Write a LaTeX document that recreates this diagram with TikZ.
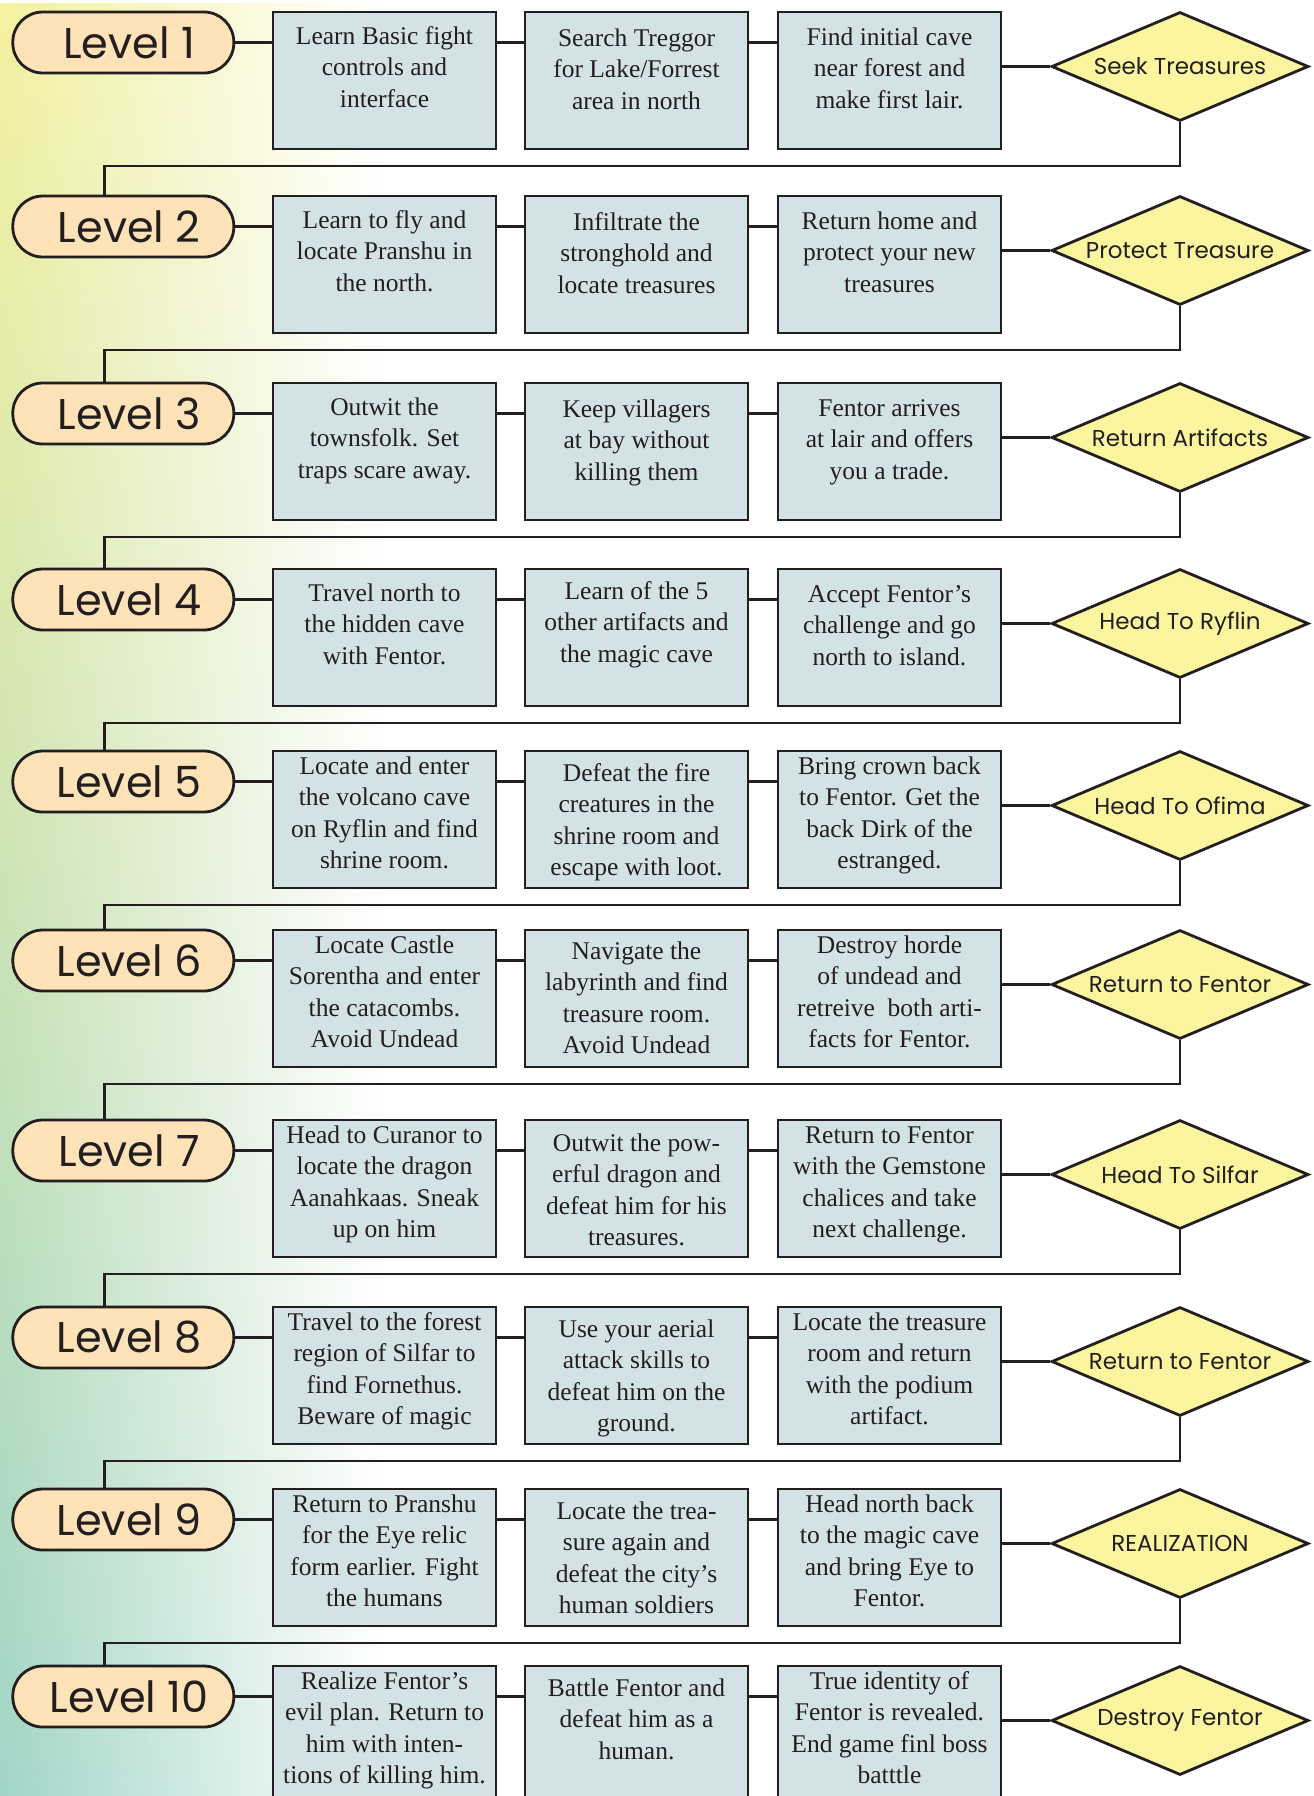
\documentclass[tikz,border=0pt]{standalone}
\usepackage{fontspec}
\newfontfamily\boxfont{Liberation Serif}
\newfontfamily\gothfont{Poppins}
\usetikzlibrary{calc,shapes.geometric,fadings}
\definecolor{inkline}{RGB}{35,31,32}
\definecolor{pillfill}{RGB}{253,227,183}
\definecolor{boxfill}{RGB}{211,226,229}
\definecolor{diafill}{RGB}{251,245,160}
\definecolor{bgtop}{RGB}{245,241,160}
\definecolor{bgmid}{RGB}{198,225,180}
\definecolor{bgbot}{RGB}{160,213,200}
\newcommand\steptext[2][10]{\parbox[c][137pt][t]{223pt}{\centering\vspace*{#1pt}\strut#2}}
\newcommand\questtext[1]{\makebox[0pt]{#1}}
\tikzset{
	levelpill/.style={draw=inkline, line width=2.8pt, fill=pillfill, rounded corners=30pt, minimum width=221pt, minimum height=61pt, inner sep=0pt, text=inkline, font=\gothfont\fontsize{43}{50}\selectfont, execute at begin node={\hspace*{12pt}}},
	stepbox/.style={draw=inkline, line width=2.8pt, fill=boxfill, minimum width=223pt, minimum height=137pt, inner sep=0pt, text=inkline, font=\boxfont\fontsize{25.5}{31.5}\selectfont},
	questdia/.style={draw=inkline, line width=2.8pt, fill=diafill, shape=diamond, minimum width=257pt, minimum height=109pt, inner sep=0pt, text=inkline, font=\gothfont\fontsize{23}{28}\selectfont},
	link/.style={draw=inkline, line width=2.8pt},
}

\begin{document}
\begin{tikzpicture}[x=1pt,y=-1pt]
			%%%%% START %%%%%
			\useasboundingbox (0,0) rectangle (1314,1796);
			\clip (0,0) rectangle (1314,1796);
			\fill[white] (0,0) rectangle (1314,1796);
			\shade[top color=bgtop, middle color=bgmid, bottom color=bgbot, path fading=east] (0,0) rectangle (380,1796);
			
			% level 1
			\node[levelpill] (lv1) at (123.3,42.5) {Level 1};
			\node[stepbox] (b11) at (384.5,80.5) {\steptext{Learn Basic fight\\controls and\\interface}};
			\node[stepbox] (b12) at (636.5,80.5) {\steptext[12]{Search Treggor\\for Lake/Forrest\\area in north}};
			\node[stepbox] (b13) at (889.5,80.5) {\steptext[11]{Find initial cave\\near forest and\\make first lair.}};
			\node[questdia] (q1) at (1180,66.5) {\questtext{Seek Treasures}};
			
			% level 2
			\node[levelpill] (lv2) at (123.3,226.5) {Level 2};
			\node[stepbox] (b21) at (384.5,264.5) {\steptext{Learn to fly and\\locate Pranshu in\\the north.}};
			\node[stepbox] (b22) at (636.5,264.5) {\steptext[12]{Infiltrate the\\stronghold and\\locate treasures}};
			\node[stepbox] (b23) at (889.5,264.5) {\steptext[11]{Return home and\\protect your new\\treasures}};
			\node[questdia] (q2) at (1180,250.5) {\questtext{Protect Treasure}};
			
			% level 3
			\node[levelpill] (lv3) at (123.3,413.5) {Level 3};
			\node[stepbox] (b31) at (384.5,451.5) {\steptext{Outwit the\\townsfolk. Set\\traps scare away.}};
			\node[stepbox] (b32) at (636.5,451.5) {\steptext[12]{Keep villagers\\at bay without\\killing them}};
			\node[stepbox] (b33) at (889.5,451.5) {\steptext[11]{Fentor arrives\\at lair and offers\\you a trade.}};
			\node[questdia] (q3) at (1180,437.5) {\questtext{Return Artifacts}};
			
			% level 4
			\node[levelpill] (lv4) at (123.3,599.5) {Level 4};
			\node[stepbox] (b41) at (384.5,637.5) {\steptext{Travel north to\\the hidden cave\\with Fentor.}};
			\node[stepbox] (b42) at (636.5,637.5) {\steptext[8]{Learn of the 5\\other artifacts and\\the magic cave}};
			\node[stepbox] (b43) at (889.5,637.5) {\steptext[11]{Accept Fentor’s\\challenge and go\\north to island.}};
			\node[questdia] (q4) at (1180,623.5) {\questtext{Head To Ryflin}};
			
			% level 5
			\node[levelpill] (lv5) at (123.3,781.5) {Level 5};
			\node[stepbox] (b51) at (384.5,819.5) {\steptext[1]{Locate and enter\\the volcano cave\\on Ryflin and find\\shrine room.}};
			\node[stepbox] (b52) at (636.5,819.5) {\steptext[8]{Defeat the fire\\creatures in the\\shrine room and\\escape with loot.}};
			\node[stepbox] (b53) at (889.5,819.5) {\steptext[1]{Bring crown back\\to Fentor. Get the\\back Dirk of the\\estranged.}};
			\node[questdia] (q5) at (1180,805.5) {\questtext{Head To Ofima}};
			
			% level 6
			\node[levelpill] (lv6) at (123.3,960.5) {Level 6};
			\node[stepbox] (b61) at (384.5,998.5) {\steptext[1]{Locate Castle\\Sorentha and enter\\the catacombs.\\Avoid Undead}};
			\node[stepbox] (b62) at (636.5,998.5) {\steptext[7]{Navigate the\\labyrinth and find\\treasure room.\\Avoid Undead}};
			\node[stepbox] (b63) at (889.5,998.5) {\steptext[1]{Destroy horde\\of undead and\\retreive~ both arti-\\facts for Fentor.}};
			\node[questdia] (q6) at (1180,984.5) {\questtext{Return to Fentor}};
			
			% level 7
			\node[levelpill] (lv7) at (123.3,1150.5) {Level 7};
			\node[stepbox] (b71) at (384.5,1188.5) {\steptext[1]{Head to Curanor to\\locate the dragon\\Aanahkaas. Sneak\\up on him}};
			\node[stepbox] (b72) at (636.5,1188.5) {\steptext[9]{Outwit the pow-\\erful dragon and\\defeat him for his\\treasures.}};
			\node[stepbox] (b73) at (889.5,1188.5) {\steptext[1]{Return to Fentor\\with the Gemstone\\chalices and take\\next challenge.}};
			\node[questdia] (q7) at (1180,1174.5) {\questtext{Head To Silfar}};
			
			% level 8
			\node[levelpill] (lv8) at (123.3,1337.5) {Level 8};
			\node[stepbox] (b81) at (384.5,1375.5) {\steptext[1]{Travel to the forest\\region of Silfar to\\find Fornethus.\\Beware of magic}};
			\node[stepbox] (b82) at (636.5,1375.5) {\steptext[8]{Use your aerial\\attack skills to\\defeat him on the\\ground.}};
			\node[stepbox] (b83) at (889.5,1375.5) {\steptext[1]{Locate the treasure\\room and return\\with the podium\\artifact.}};
			\node[questdia] (q8) at (1180,1361.5) {\questtext{Return to Fentor}};
			
			% level 9
			\node[levelpill] (lv9) at (123.3,1519.5) {Level 9};
			\node[stepbox] (b91) at (384.5,1557.5) {\steptext[1]{Return to Pranshu\\for the Eye relic\\form earlier. Fight\\the humans}};
			\node[stepbox] (b92) at (636.5,1557.5) {\steptext[8]{Locate the trea-\\sure again and\\defeat the city’s\\human soldiers}};
			\node[stepbox] (b93) at (889.5,1557.5) {\steptext[1]{Head north back\\to the magic cave\\and bring Eye to\\Fentor.}};
			\node[questdia] (q9) at (1180,1543.5) {\questtext{REALIZATION}};
			
			% level 10
			\node[levelpill] (lv10) at (123.3,1696.5) {Level 10};
			\node[stepbox] (b101) at (384.5,1734.5) {\steptext[1]{Realize Fentor’s\\evil plan. Return to\\him with inten-\\tions of killing him.}};
			\node[stepbox] (b102) at (636.5,1734.5) {\steptext[8]{Battle Fentor and\\defeat him as a\\human.}};
			\node[stepbox] (b103) at (889.5,1734.5) {\steptext[1]{True identity of\\Fentor is revealed.\\End game finl boss\\batttle}};
			\node[questdia] (q10) at (1180,1720.5) {\questtext{Destroy Fentor}};
			
			% links
			\draw[link] (lv1.east) -- (lv1.east -| b11.west);
			\draw[link] (lv1.east -| b11.east) -- (lv1.east -| b12.west);
			\draw[link] (lv1.east -| b12.east) -- (lv1.east -| b13.west);
			\draw[link] (q1.west -| b13.east) -- (q1.west);
			\draw[link] (q1.south) -- ++(0,43.5) -| ($(lv2.north)+(-19,0)$);
			
			\draw[link] (lv2.east) -- (lv2.east -| b21.west);
			\draw[link] (lv2.east -| b21.east) -- (lv2.east -| b22.west);
			\draw[link] (lv2.east -| b22.east) -- (lv2.east -| b23.west);
			\draw[link] (q2.west -| b23.east) -- (q2.west);
			\draw[link] (q2.south) -- ++(0,43.5) -| ($(lv3.north)+(-19,0)$);
			
			\draw[link] (lv3.east) -- (lv3.east -| b31.west);
			\draw[link] (lv3.east -| b31.east) -- (lv3.east -| b32.west);
			\draw[link] (lv3.east -| b32.east) -- (lv3.east -| b33.west);
			\draw[link] (q3.west -| b33.east) -- (q3.west);
			\draw[link] (q3.south) -- ++(0,43.5) -| ($(lv4.north)+(-19,0)$);
			
			\draw[link] (lv4.east) -- (lv4.east -| b41.west);
			\draw[link] (lv4.east -| b41.east) -- (lv4.east -| b42.west);
			\draw[link] (lv4.east -| b42.east) -- (lv4.east -| b43.west);
			\draw[link] (q4.west -| b43.east) -- (q4.west);
			\draw[link] (q4.south) -- ++(0,43.5) -| ($(lv5.north)+(-19,0)$);
			
			\draw[link] (lv5.east) -- (lv5.east -| b51.west);
			\draw[link] (lv5.east -| b51.east) -- (lv5.east -| b52.west);
			\draw[link] (lv5.east -| b52.east) -- (lv5.east -| b53.west);
			\draw[link] (q5.west -| b53.east) -- (q5.west);
			\draw[link] (q5.south) -- ++(0,43.5) -| ($(lv6.north)+(-19,0)$);
			
			\draw[link] (lv6.east) -- (lv6.east -| b61.west);
			\draw[link] (lv6.east -| b61.east) -- (lv6.east -| b62.west);
			\draw[link] (lv6.east -| b62.east) -- (lv6.east -| b63.west);
			\draw[link] (q6.west -| b63.east) -- (q6.west);
			\draw[link] (q6.south) -- ++(0,43.5) -| ($(lv7.north)+(-19,0)$);
			
			\draw[link] (lv7.east) -- (lv7.east -| b71.west);
			\draw[link] (lv7.east -| b71.east) -- (lv7.east -| b72.west);
			\draw[link] (lv7.east -| b72.east) -- (lv7.east -| b73.west);
			\draw[link] (q7.west -| b73.east) -- (q7.west);
			\draw[link] (q7.south) -- ++(0,43.5) -| ($(lv8.north)+(-19,0)$);
			
			\draw[link] (lv8.east) -- (lv8.east -| b81.west);
			\draw[link] (lv8.east -| b81.east) -- (lv8.east -| b82.west);
			\draw[link] (lv8.east -| b82.east) -- (lv8.east -| b83.west);
			\draw[link] (q8.west -| b83.east) -- (q8.west);
			\draw[link] (q8.south) -- ++(0,43.5) -| ($(lv9.north)+(-19,0)$);
			
			\draw[link] (lv9.east) -- (lv9.east -| b91.west);
			\draw[link] (lv9.east -| b91.east) -- (lv9.east -| b92.west);
			\draw[link] (lv9.east -| b92.east) -- (lv9.east -| b93.west);
			\draw[link] (q9.west -| b93.east) -- (q9.west);
			\draw[link] (q9.south) -- ++(0,43.5) -| ($(lv10.north)+(-19,0)$);
			
			\draw[link] (lv10.east) -- (lv10.east -| b101.west);
			\draw[link] (lv10.east -| b101.east) -- (lv10.east -| b102.west);
			\draw[link] (lv10.east -| b102.east) -- (lv10.east -| b103.west);
			\draw[link] (q10.west -| b103.east) -- (q10.west);
			
			%%%%% END %%%%%
\end{tikzpicture}
\end{document}
